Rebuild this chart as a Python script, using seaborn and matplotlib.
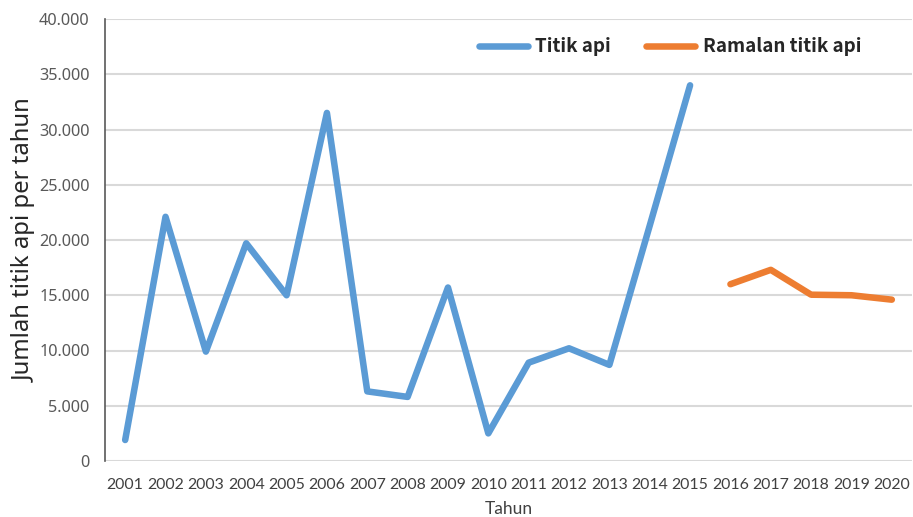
import matplotlib
matplotlib.use("Agg")
import matplotlib.pyplot as plt
from matplotlib.ticker import FuncFormatter, MultipleLocator
from matplotlib.lines import Line2D
import seaborn as sns
import pandas as pd

# Hotspot counts per year (observed) and the forecast that follows
years_obs = [2001, 2002, 2003, 2004, 2005, 2006, 2007, 2008, 2009, 2010,
             2011, 2012, 2013, 2014, 2015]
hotspots_obs = [1900, 22100, 9900, 19700, 15000, 31500, 6300, 5800, 15700,
                2500, 8900, 10200, 8700, 21300, 34000]
years_fc = [2016, 2017, 2018, 2019, 2020]
hotspots_fc = [16000, 17300, 15050, 15000, 14600]

label_obs = "Titik api"
label_fc = "Ramalan titik api"
x_title = "Tahun"
y_title = "Jumlah titik api per tahun"

df = pd.DataFrame({
    "Tahun": years_obs + years_fc,
    "Jumlah": hotspots_obs + hotspots_fc,
    "Seri": [label_obs] * len(years_obs) + [label_fc] * len(years_fc),
})

blue = "#5B9BD5"
orange = "#ED7D31"

sns.set_style("white")
plt.rcParams["font.family"] = ["Noto Sans", "DejaVu Sans"]

fig = plt.figure(figsize=(9.13, 5.17), dpi=100)
ax = fig.add_axes([105 / 913, 1 - 461 / 517, 807 / 913, 442 / 517])

sns.lineplot(data=df, x="Tahun", y="Jumlah", hue="Seri",
             palette={label_obs: blue, label_fc: orange},
             linewidth=4.7, sort=False, legend=False, ax=ax,
             solid_capstyle="round", solid_joinstyle="round")

ax.set_xlim(2000.5, 2020.5)
ax.set_ylim(0, 40000)
ax.yaxis.set_major_locator(MultipleLocator(5000))
ax.yaxis.set_major_formatter(FuncFormatter(lambda v, p: f"{v:,.0f}".replace(",", ".")))
ax.set_xticks(years_obs + years_fc)
ax.set_xticklabels([str(y) for y in years_obs + years_fc])

ax.grid(axis="y", color="#d9d9d9", linewidth=1.5)
ax.set_axisbelow(True)
for s in ["top", "right", "bottom"]:
    ax.spines[s].set_visible(False)
ax.spines["left"].set_color("#595959")
ax.spines["left"].set_linewidth(1.2)

calib = ["Lato", "DejaVu Sans"]
ax.tick_params(axis="x", length=0, pad=12, labelsize=11.4, labelcolor="#404040")
ax.tick_params(axis="y", length=0, pad=11, labelsize=11.7, labelcolor="#595959")
for t in ax.get_xticklabels():
    t.set_family(calib)

ax.set_xlabel(x_title, family=calib, fontsize=12.5, color="#404040", labelpad=7)
ax.set_ylabel(y_title, fontsize=17.2, color="#262626", labelpad=2)

handles = [Line2D([], [], color=blue, linewidth=4.7, solid_capstyle="round"),
           Line2D([], [], color=orange, linewidth=4.7, solid_capstyle="round")]
ax.legend(handles, [label_obs, label_fc], ncol=2, frameon=False,
          loc="center", bbox_to_anchor=(670 / 913, 1 - 47 / 517),
          bbox_transform=fig.transFigure,
          prop={"family": ["Noto Sans CJK KR", "DejaVu Sans"], "weight": "bold", "size": 13.5},
          handlelength=2.6, handletextpad=0.4, columnspacing=1.9)

fig.savefig("out.png", dpi=100)
